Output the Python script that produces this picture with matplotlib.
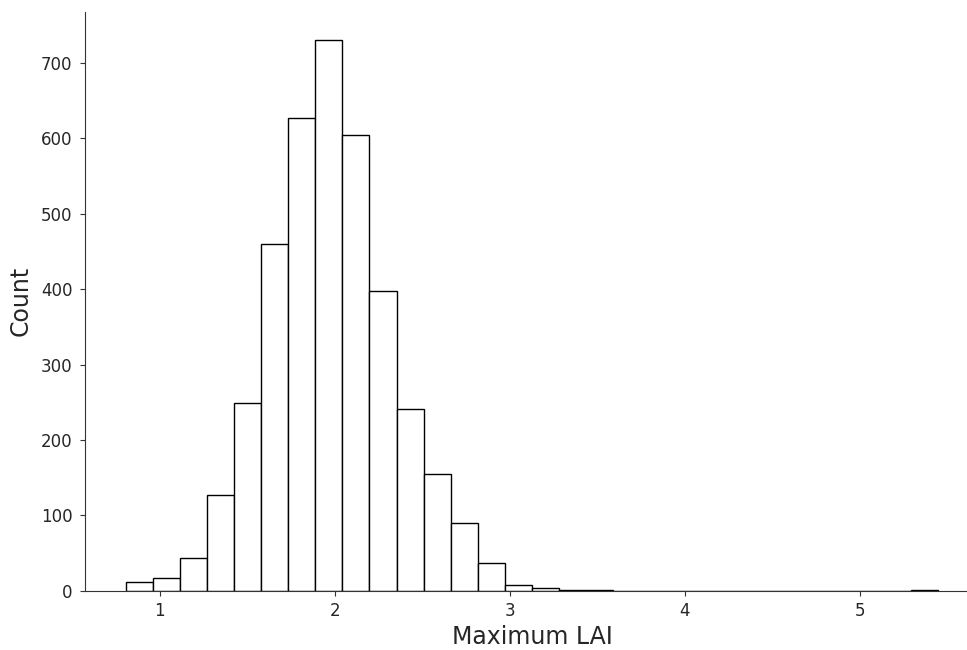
import numpy as np
import matplotlib
matplotlib.use("Agg")
import matplotlib.pyplot as plt

bin_start = 0.806
bin_end = 5.45
counts = [12, 17, 44, 127, 249, 460, 627, 731, 604, 398, 241, 155, 90, 37, 8, 3, 1, 1,
          0, 0, 0, 0, 0, 0, 0, 0, 0, 0, 0, 1]
xticks = [1, 2, 3, 4, 5]
yticks = [0, 100, 200, 300, 400, 500, 600, 700]

edges = np.linspace(bin_start, bin_end, len(counts) + 1)

fig = plt.figure(figsize=(9.67, 6.5), dpi=100)
ax = fig.add_axes([0.0879, 0.0912, 0.9245, 0.8903])
ax.bar(edges[:-1], counts, width=np.diff(edges), align="edge",
       facecolor="white", edgecolor="black", linewidth=1.0)
ax.margins(x=0.05, y=0.05)
ax.set_ylim(0, max(counts) * 1.05)
ax.set_xticks(xticks)
ax.set_yticks(yticks)
for s in ["top", "right"]:
    ax.spines[s].set_visible(False)
for s in ["left", "bottom"]:
    ax.spines[s].set_color("#333333")
ax.tick_params(labelsize=12, colors="#333333", labelcolor="#262626", length=3.5)
ax.tick_params(axis="y", pad=5.6)
ax.tick_params(axis="x", pad=4.5)
ax.set_xlabel("Maximum LAI", fontsize=17, color="#262626", labelpad=3.5)
ax.set_ylabel("Count", fontsize=17, color="#262626", labelpad=5.7)
fig.savefig("out.png", dpi=100)
